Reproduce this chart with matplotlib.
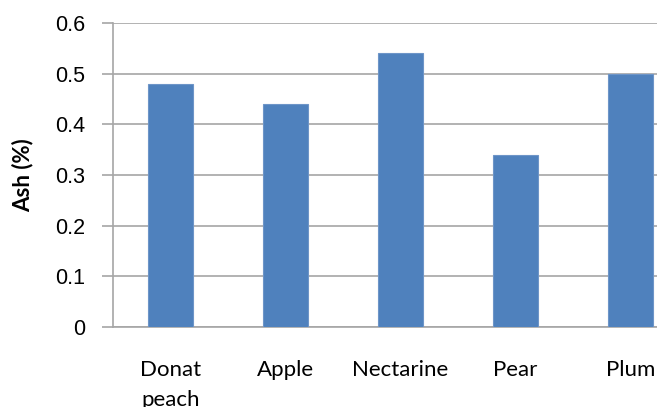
import matplotlib
matplotlib.use("Agg")
import matplotlib.pyplot as plt

fruits = ["Donat\npeach", "Apple", "Nectarine", "Pear", "Plum"]
ash = [0.48, 0.44, 0.54, 0.34, 0.50]
yticks = [0, 0.1, 0.2, 0.3, 0.4, 0.5, 0.6]

W, H = 657, 407
fig = plt.figure(figsize=(W / 100, H / 100), dpi=100)
# plot area runs past the right edge, as in the original crop
ax = fig.add_axes([113 / W, 80 / H, 575 / W, 304 / H])

ax.bar(range(len(fruits)), ash, width=0.39, color="#4F81BD",
       edgecolor="#6E95C8", linewidth=0.8, zorder=3)

ax.set_xlim(-0.5, len(fruits) - 0.5)
ax.set_ylim(0, 0.6)
ax.set_yticks(yticks)
ax.set_yticklabels(["0"] + [f"{v:.1f}" for v in yticks[1:]],
                   family="Liberation Sans", fontsize=15.5)
ax.set_xticks(range(len(fruits)))
ax.set_xticklabels(fruits, family="Lato", fontsize=16, va="top", linespacing=1.6)

ax.grid(axis="y", color="#A6A6A6", linewidth=1.2, zorder=0)
ax.tick_params(axis="y", length=8, width=1.2, color="#A6A6A6", pad=12)
ax.tick_params(axis="x", length=0, pad=24)

for side in ["top", "right"]:
    ax.spines[side].set_visible(False)
for side in ["left", "bottom"]:
    ax.spines[side].set_color("#A6A6A6")
    ax.spines[side].set_linewidth(1.2)

fig.text(23 / W, 1 - 175 / H, "Ash (%)", rotation=90, ha="center", va="center",
         family="Lato", fontweight="bold", fontsize=16)

fig.savefig("out.png", dpi=100)
